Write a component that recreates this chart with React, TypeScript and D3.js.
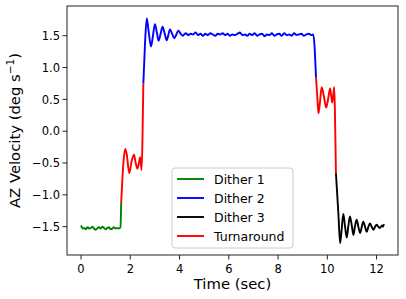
import React from "react";
import * as d3 from "d3";

const dither1T = [0, 0.07, 0.13, 0.2, 0.27, 0.33, 0.4, 0.47, 0.53, 0.6, 0.67, 0.73, 0.8, 0.87, 0.93, 1.0, 1.07, 1.13, 1.2, 1.27, 1.33, 1.4, 1.47, 1.53, 1.6, 1.63];
const dither1V = [-1.48, -1.53, -1.52, -1.54, -1.51, -1.53, -1.52, -1.5, -1.53, -1.55, -1.52, -1.51, -1.53, -1.5, -1.52, -1.54, -1.52, -1.51, -1.54, -1.53, -1.51, -1.53, -1.52, -1.53, -1.51, -1.13];

const turn1T = [1.63, 1.72, 1.79, 1.85, 1.96, 2.05, 2.15, 2.22, 2.29, 2.35, 2.4, 2.46, 2.5, 2.53];
const turn1V = [-1.13, -0.5, -0.28, -0.35, -0.66, -0.48, -0.37, -0.5, -0.59, -0.5, -0.41, -0.61, 0.0, 0.75];

const dither2T = [2.53, 2.6, 2.67, 2.75, 2.84, 2.92, 3.0, 3.08, 3.15, 3.23, 3.31, 3.4, 3.48, 3.55, 3.61, 3.7, 3.79, 3.87, 3.95, 4.05, 4.13, 4.25, 4.35, 4.45, 4.55, 4.65, 4.75, 4.85, 4.95, 5.05, 5.15, 5.25, 5.35, 5.45, 5.55, 5.65, 5.75, 5.85, 5.95, 6.05, 6.15, 6.25, 6.35, 6.45, 6.55, 6.65, 6.75, 6.85, 6.95, 7.05, 7.15, 7.25, 7.35, 7.45, 7.55, 7.65, 7.75, 7.85, 7.95, 8.05, 8.15, 8.25, 8.35, 8.45, 8.55, 8.65, 8.75, 8.85, 8.95, 9.05, 9.15, 9.25, 9.35, 9.43, 9.54];
const dither2V = [0.75, 1.4, 1.77, 1.55, 1.33, 1.5, 1.68, 1.55, 1.42, 1.53, 1.64, 1.53, 1.43, 1.52, 1.6, 1.53, 1.46, 1.52, 1.58, 1.53, 1.5, 1.54, 1.51, 1.53, 1.52, 1.55, 1.51, 1.53, 1.5, 1.53, 1.51, 1.54, 1.52, 1.5, 1.53, 1.52, 1.54, 1.51, 1.53, 1.5, 1.52, 1.51, 1.53, 1.55, 1.51, 1.52, 1.5, 1.53, 1.51, 1.54, 1.5, 1.52, 1.53, 1.49, 1.52, 1.51, 1.54, 1.5, 1.52, 1.53, 1.5, 1.54, 1.51, 1.52, 1.5, 1.54, 1.51, 1.52, 1.53, 1.5, 1.52, 1.53, 1.51, 1.52, 0.85];

const turn2T = [9.54, 9.6, 9.64, 9.7, 9.77, 9.86, 9.95, 10.03, 10.11, 10.16, 10.2, 10.25, 10.28, 10.31, 10.35];
const turn2V = [0.85, 0.5, 0.28, 0.45, 0.69, 0.55, 0.37, 0.5, 0.67, 0.55, 0.45, 0.6, 0.69, 0.3, -0.66];

const dither3T = [10.35, 10.45, 10.52, 10.58, 10.65, 10.72, 10.79, 10.85, 10.92, 11.0, 11.06, 11.12, 11.19, 11.26, 11.33, 11.4, 11.46, 11.53, 11.6, 11.67, 11.73, 11.8, 11.87, 11.94, 12.0, 12.07, 12.14, 12.22, 12.26, 12.3];
const dither3V = [-0.66, -1.3, -1.76, -1.55, -1.3, -1.5, -1.67, -1.5, -1.34, -1.5, -1.63, -1.5, -1.39, -1.5, -1.6, -1.5, -1.42, -1.5, -1.58, -1.5, -1.45, -1.5, -1.55, -1.5, -1.47, -1.5, -1.52, -1.48, -1.5, -1.46];

const xTicks = [0, 2, 4, 6, 8, 10, 12];
const yTicks = [-1.5, -1.0, -0.5, 0.0, 0.5, 1.0, 1.5];

const legendLabels = ["Dither 1", "Dither 2", "Dither 3", "Turnaround"];
const legendColors = ["#008000", "#0000ff", "#000000", "#ff0000"];

const W = 406, H = 299;
const L = 67, R = 398, T = 6, B = 255;
const font = "'DejaVu Sans', sans-serif";

export default function App() {
  const x = d3.scaleLinear().domain([-0.57, 12.87]).range([L, R]);
  const y = d3.scaleLinear().domain([-1.945, 1.967]).range([B, T]);
  const line = d3.line<[number, number]>().x(d => x(d[0])).y(d => y(d[1])).curve(d3.curveMonotoneX);
  const zip = (t: number[], v: number[]) => t.map((ti, i) => [ti, v[i]] as [number, number]);
  const series = [
    { d: zip(turn1T, turn1V), c: "#ff0000" },
    { d: zip(turn2T, turn2V), c: "#ff0000" },
    { d: zip(dither1T, dither1V), c: "#008000" },
    { d: zip(dither2T, dither2V), c: "#0000ff" },
    { d: zip(dither3T, dither3V), c: "#000000" },
  ];
  const fmt = (v: number) => (v < 0 ? "\u2212" : "") + Math.abs(v).toFixed(1);
  const lgX = 172, lgY = 168, lgW = 121, lgH = 80;
  return (
    <div style={{ position: "absolute", left: 0, top: 0 }}>
      <svg width={W} height={H} style={{ display: "block", background: "#fff" }}>
        <defs>
          <clipPath id="clip"><rect x={L} y={T} width={R - L} height={B - T} /></clipPath>
        </defs>
        <g clipPath="url(#clip)">
          {series.map((s, i) => (
            <path key={i} d={line(s.d) || ""} fill="none" stroke={s.c} strokeWidth={1.9} strokeLinejoin="round" strokeLinecap="butt" />
          ))}
        </g>
        <rect x={L} y={T} width={R - L} height={B - T} fill="none" stroke="#222" strokeWidth={1} />
        {xTicks.map(t => (
          <g key={t}>
            <line x1={x(t)} x2={x(t)} y1={B} y2={B + 4.5} stroke="#222" strokeWidth={1} />
            <text x={x(t)} y={272.5} fontFamily={font} fontSize={11.5} textAnchor="middle" fill="#000">{t}</text>
          </g>
        ))}
        {yTicks.map(t => (
          <g key={t}>
            <line x1={L - 4.5} x2={L} y1={y(t)} y2={y(t)} stroke="#222" strokeWidth={1} />
            <text x={L - 7} y={y(t) + 4.2} fontFamily={font} fontSize={11.5} textAnchor="end" fill="#000">{fmt(t)}</text>
          </g>
        ))}
        <text x={(L + R) / 2} y={289} fontFamily={font} fontSize={14.8} textAnchor="middle" fill="#000">Time (sec)</text>
        <text transform={`translate(20,${(T + B) / 2}) rotate(-90)`} fontFamily={font} fontSize={14.8} textAnchor="middle" fill="#000">
          AZ Velocity (deg s<tspan dy={-6} fontSize={10.5}>{"\u22121"}</tspan><tspan dy={6}>)</tspan>
        </text>
        <rect x={lgX} y={lgY} width={lgW} height={lgH} rx={3} fill="#fff" fillOpacity={0.8} stroke="#ccc" strokeWidth={1} />
        {legendLabels.map((lab, i) => {
          const yy = 179 + i * 19;
          return (
            <g key={lab}>
              <line x1={177} x2={204} y1={yy} y2={yy} stroke={legendColors[i]} strokeWidth={1.9} />
              <text x={214} y={yy + 4.5} fontFamily={font} fontSize={12.5} fill="#000">{lab}</text>
            </g>
          );
        })}
      </svg>
    </div>
  );
}
